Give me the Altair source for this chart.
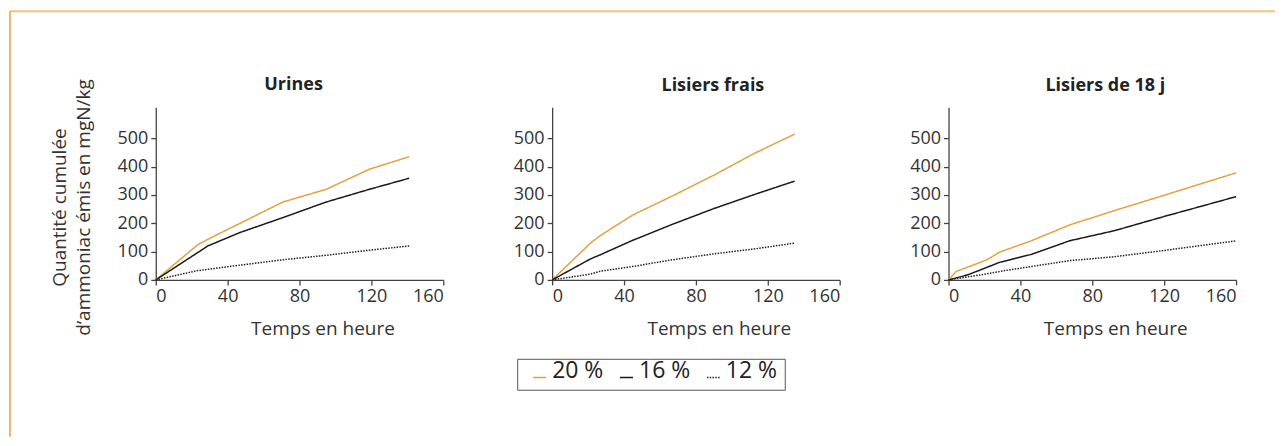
import altair as alt
import pandas as pd

FONT = "Open Sans"
panels = ["Urines", "Lisiers frais", "Lisiers de 18 j"]
series = ["20 %", "16 %", "12 %"]
series_colors = ["#E3A23F", "#1A1A1A", "#222222"]
series_dash = [[1, 0], [1, 0], [1.5, 1.3]]
x_ticks = [0, 40, 80, 120, 160]
y_ticks = [0, 100, 200, 300, 400, 500]
x_title = "Temps en heure"
y_title = ["Quantité cumulée", "d\u2019ammoniac émis en mgN/kg"]
legend_labels = series

# Urines
urines_t20 = [0, 23.5, 31, 70.7, 94.8, 118.9, 141]
urines_v20 = [0, 125, 150, 275, 320, 391, 435]
urines_t16 = [0, 29, 46.7, 70.7, 94.8, 118.9, 141]
urines_v16 = [0, 120, 167, 220, 275, 320, 359]
urines_t12 = [0, 22.6, 46.7, 70.7, 94.8, 118.9, 141]
urines_v12 = [0, 32, 52, 71, 87, 105, 120]

# Lisiers frais
frais_t20 = [0, 21.3, 26.9, 44.5, 66.8, 90, 113.2, 135]
frais_v20 = [0, 130, 157, 228, 296, 370, 449, 515]
frais_t16 = [0, 21.3, 26.9, 44.5, 66.8, 90, 113.2, 135]
frais_v16 = [0, 74, 89, 139, 196, 252, 303, 349]
frais_t12 = [0, 21, 27, 44.5, 66.8, 90, 113.2, 135]
frais_v12 = [0, 20, 31, 47, 71, 92, 110, 130]

# Lisiers de 18 j
j18_t20 = [0, 4.3, 21, 28.4, 46, 67.3, 92.4, 120, 160]
j18_v20 = [0, 30, 70, 98, 138, 194, 245, 299, 378]
j18_t16 = [0, 10.8, 28.4, 46, 67.3, 92.4, 120, 160]
j18_v16 = [0, 18, 62, 90, 138, 174, 224, 294]
j18_t12 = [0, 18, 28.4, 67.3, 92.4, 120, 160]
j18_v12 = [0, 18, 30, 68, 82, 104, 138]

panel_series = {
    "Urines": [(urines_t20, urines_v20), (urines_t16, urines_v16), (urines_t12, urines_v12)],
    "Lisiers frais": [(frais_t20, frais_v20), (frais_t16, frais_v16), (frais_t12, frais_v12)],
    "Lisiers de 18 j": [(j18_t20, j18_v20), (j18_t16, j18_v16), (j18_t12, j18_v12)],
}

rows = []
for p in panels:
    for s, (ts, vs) in zip(series, panel_series[p]):
        for t, v in zip(ts, vs):
            rows.append({"panel": p, "serie": s, "t": t, "v": v})
df = pd.DataFrame(rows)

title_dx = {"Urines": -6, "Lisiers frais": 17, "Lisiers de 18 j": 13}
title_dy = {"Urines": 96, "Lisiers frais": 0, "Lisiers de 18 j": 0}

color_scale = alt.Scale(domain=series, range=series_colors)
dash_scale = alt.Scale(domain=series, range=series_dash)
legend = alt.Legend(
    title=None, orient="none", legendX=362, legendY=252, direction="horizontal",
    columns=3, strokeColor="#555555", padding=7, labelFontSize=23, labelFont=FONT,
    labelColor="#222222", symbolType="stroke", symbolSize=169, symbolStrokeWidth=1.5,
    symbolOffset=4, columnPadding=7, labelOffset=1, labelBaseline="alphabetic",
    values=legend_labels,
)


def panel_chart(name, first):
    if first:
        yaxis = alt.Axis(values=y_ticks, title=y_title, titleX=-90, titleY=100,
                         titleAngle=270, titleAlign="center", titleBaseline="alphabetic",
                         titleLineHeight=24, titleFontSize=19)
    else:
        yaxis = alt.Axis(values=y_ticks, title=None)
    lines = alt.Chart(df[df.panel == name]).mark_line(strokeWidth=1.5).encode(
        x=alt.X("t:Q", scale=alt.Scale(domain=[0, 160], nice=False),
                axis=alt.Axis(values=x_ticks, title=x_title, titleX=167, titleY=55,
                              titleAlign="center", titleBaseline="alphabetic")),
        y=alt.Y("v:Q", scale=alt.Scale(domain=[0, 610], nice=False), axis=yaxis),
        color=alt.Color("serie:N", scale=color_scale, legend=legend, sort=series),
        strokeDash=alt.StrokeDash("serie:N", scale=dash_scale, legend=legend, sort=series),
        order=alt.Order("t:Q"),
    )
    layers = [lines]
    if first:
        one = pd.DataFrame({"k": [0]})
        top_rule = alt.Chart(one).mark_rule(color="#F2C47E", strokeWidth=2).encode(
            x=alt.value(-146), x2=alt.value(1121), y=alt.value(-96))
        left_rule = alt.Chart(one).mark_rule(color="#E2A040", strokeWidth=1.5).encode(
            x=alt.value(-146), y=alt.value(-96), y2=alt.value(330))
        layers = [top_rule, left_rule, lines]
    return alt.layer(*layers).properties(
        width=288, height=173,
        title=alt.TitleParams(name, dx=title_dx[name], dy=title_dy[name], offset=12,
                              fontSize=18, frame="group", fontWeight="bold", font=FONT,
                              color="#222222", anchor="middle"),
    )


chart = alt.hconcat(
    *[panel_chart(p, i == 0) for i, p in enumerate(panels)],
    spacing=109, bounds="flush",
).configure(
    padding={"left": 1, "top": 2, "right": 0, "bottom": 0},
    background="white",
).configure_view(stroke=None).configure_axis(
    grid=False, domainColor="#444444", tickColor="#444444", domainWidth=1.3, tickWidth=1.3,
    tickSize=5, labelFont=FONT, labelFontSize=18, labelColor="#333333", labelPadding=3,
    titleFont=FONT, titleFontSize=19, titleFontWeight="normal", titleColor="#333333",
)

chart.save("out.html", embed_options={"renderer": "svg", "actions": False})
